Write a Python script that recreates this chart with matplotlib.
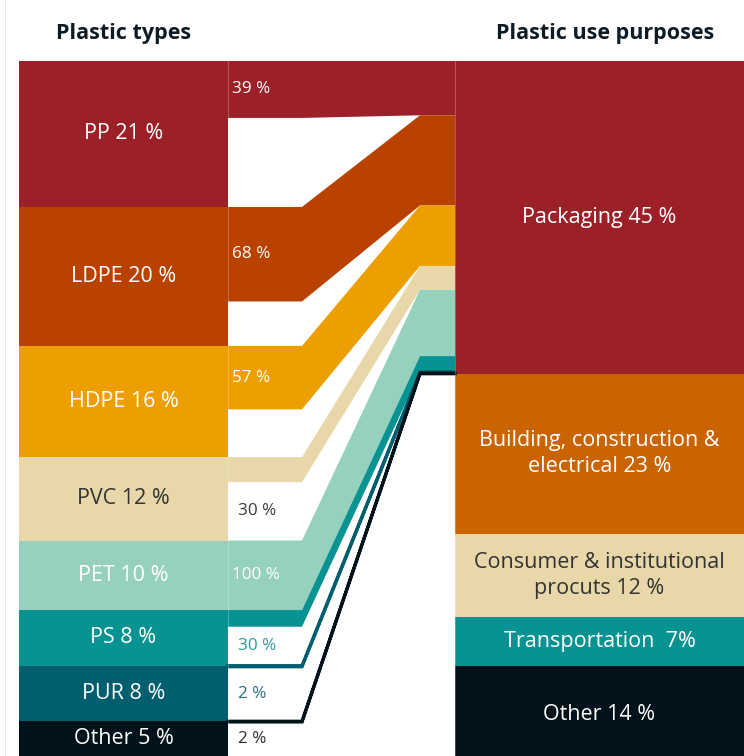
import numpy as np
import matplotlib
matplotlib.use('Agg')
import matplotlib.pyplot as plt
from matplotlib.patches import Polygon, Rectangle

plt.rcParams['font.family'] = ['Open Sans', 'DejaVu Sans']

# Plastic types and their share of total demand (%)
types = ['PP', 'LDPE', 'HDPE', 'PVC', 'PET', 'PS', 'PUR', 'Other']
type_share = [21, 20, 16, 12, 10, 8, 8, 5]
# Share of each type that ends up in packaging (%)
to_packaging = [39, 68, 57, 30, 100, 30, 2, 2]

# Use purposes and their share (%)
purpose_share = [45, 23, 12, 7, 14]
purpose_labels = ['Packaging {} %', 'Building, construction &\nelectrical {} %',
                  'Consumer & institutional\nprocuts {} %', 'Transportation  {}%',
                  'Other {} %']

type_colors = ['#9b2028', '#ba4200', '#ee9f00', '#e8d7a9',
               '#96d1bd', '#089393', '#005e6e', '#02121a']
type_text = ['white', 'white', 'white', '#333333',
             'white', 'white', 'white', 'white']
purpose_colors = ['#9b2028', '#c96400', '#e8d7a9', '#089393', '#02121a']
purpose_text = ['white', 'white', '#333333', 'white', 'white']
flow_text_out = {3: '#3a3a3a', 5: '#2a9d9d', 6: '#2b6d7d', 7: '#2a2a2a'}

# Horizontal layout (pixels) and vertical scale (pixels per percent)
LEFT_X0, LEFT_X1 = 19, 228
BEND_X0, BEND_X1 = 302, 420
RIGHT_X0, RIGHT_X1 = 455, 744
TOP_PX, PX_PER_PCT = 61, 6.95


def stack(values):
    """Returns top and bottom positions of stacked values."""
    vals = np.asarray(values, dtype=float)
    bottom = np.cumsum(vals)
    return bottom - vals, bottom


fig = plt.figure(figsize=(7.44, 7.56), dpi=100)
ax = fig.add_axes([0, 0, 1, 1])
ax.set_xlim(0, 744)
ax.set_ylim((756 - TOP_PX) / PX_PER_PCT, -TOP_PX / PX_PER_PCT)
ax.axis('off')

# --- 1. Left column: plastic types ---
t_top, t_bot = stack(type_share)
for i, name in enumerate(types):
    ax.add_patch(Rectangle((LEFT_X0, t_top[i]), LEFT_X1 - LEFT_X0, type_share[i],
                           facecolor=type_colors[i], edgecolor='none'))
    ax.text((LEFT_X0 + LEFT_X1) / 2, (t_top[i] + t_bot[i]) / 2,
            f'{name} {type_share[i]} %', ha='center', va='center',
            color=type_text[i], fontsize=15.5)

# --- 2. Right column: use purposes ---
p_top, p_bot = stack(purpose_share)
for i, fmt in enumerate(purpose_labels):
    ax.add_patch(Rectangle((RIGHT_X0, p_top[i]), RIGHT_X1 - RIGHT_X0, purpose_share[i],
                           facecolor=purpose_colors[i], edgecolor='none'))
    ax.text((RIGHT_X0 + RIGHT_X1) / 2, (p_top[i] + p_bot[i]) / 2,
            fmt.format(purpose_share[i]), ha='center', va='center',
            color=purpose_text[i], fontsize=15.5, linespacing=1.3)

# --- 3. Flows from each type into packaging ---
flow = np.array(type_share) * np.array(to_packaging) / 100
# right ends are scaled so the flows fill the packaging block
r_top, r_bot = stack(flow * purpose_share[0] / flow.sum())
for i in range(len(types)):
    lt, lb = t_top[i], t_top[i] + flow[i]
    pts = [(LEFT_X1, lt), (BEND_X0, lt), (BEND_X1, r_top[i]), (RIGHT_X0, r_top[i]),
           (RIGHT_X0, r_bot[i]), (BEND_X1, r_bot[i]), (BEND_X0, lb), (LEFT_X1, lb)]
    thin = flow[i] < 1
    ax.add_patch(Polygon(pts, closed=True, facecolor=type_colors[i],
                         edgecolor=type_colors[i] if thin else 'none',
                         linewidth=2.3 if thin else 0, joinstyle='miter'))
    if i in flow_text_out:
        # narrow flows: label sits in the white space below the band
        y = (lb + t_bot[i]) / 2
        ax.text(LEFT_X1 + 10, y, f'{to_packaging[i]} %', ha='left', va='center',
                color=flow_text_out[i], fontsize=12.3)
    else:
        ax.text(LEFT_X1 + 4, (lt + lb) / 2, f'{to_packaging[i]} %', ha='left',
                va='center', color='white', fontsize=12.3)

# faint separators between columns and the flow area
for x in (LEFT_X1, RIGHT_X0):
    ax.plot([x, x], [0, 100.5], color='white', alpha=0.25, linewidth=0.7)
ax.plot([5, 5], [-TOP_PX / PX_PER_PCT, 101], color='#e8e8e8', linewidth=0.8)

# --- 4. Column headers ---
head_y = (33 - TOP_PX) / PX_PER_PCT
ax.text(124, head_y, 'Plastic types', ha='center', va='center',
        fontsize=15.5, fontweight='bold', color='#0d1b24')
ax.text(605, head_y, 'Plastic use purposes', ha='center', va='center',
        fontsize=15.5, fontweight='bold', color='#0d1b24')

plt.savefig('out.png', dpi=100)
plt.close()
